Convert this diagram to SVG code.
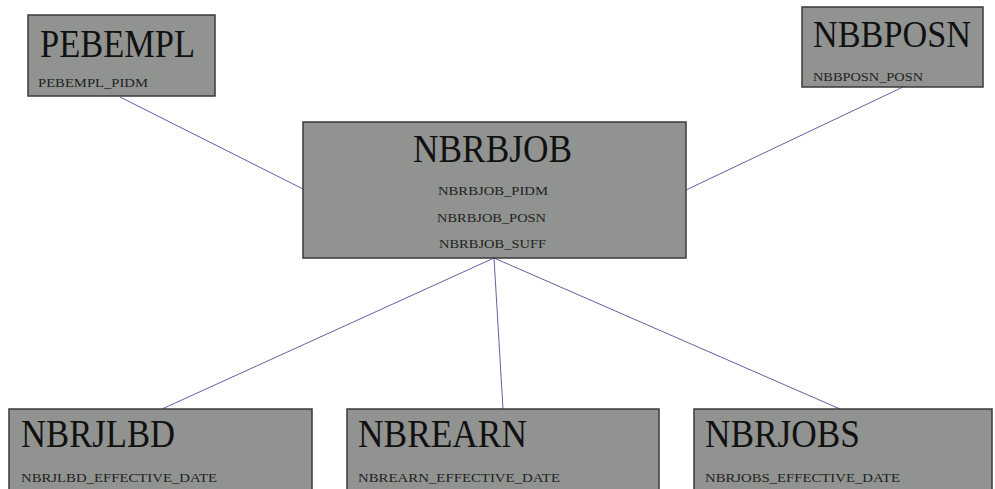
<svg xmlns="http://www.w3.org/2000/svg" width="995" height="489" viewBox="0 0 995 489">
<style>
.box{fill:#909390;stroke:#3a3a3a;stroke-width:1.5}
.t{font-family:"Liberation Serif","Times New Roman",serif;font-size:40px;fill:#111}
.s{font-family:"Liberation Serif","Times New Roman",serif;font-size:13px;fill:#222}
.c{stroke:#5f63a0;stroke-width:1;fill:none}
</style>
<rect width="995" height="489" fill="#fff"/>
<g id="connectors">
<line class="c" x1="120" y1="97" x2="303" y2="189"/>
<line class="c" x1="903" y1="87" x2="686" y2="190"/>
<line class="c" x1="494" y1="258" x2="162" y2="409"/>
<line class="c" x1="494" y1="258" x2="503" y2="409"/>
<line class="c" x1="494" y1="258" x2="840" y2="409"/>
</g>
<g id="PEBEMPL">
<rect class="box" x="28" y="15" width="187" height="81"/>
<text class="t" x="40" y="57" textLength="155" lengthAdjust="spacingAndGlyphs">PEBEMPL</text>
<text class="s" x="38" y="87" textLength="110" lengthAdjust="spacingAndGlyphs">PEBEMPL_PIDM</text>
</g>
<g id="NBBPOSN">
<rect class="box" x="802" y="7" width="181" height="80"/>
<text class="t" x="813" y="47" textLength="158" lengthAdjust="spacingAndGlyphs" style="font-size:38px">NBBPOSN</text>
<text class="s" x="813" y="81" textLength="110" lengthAdjust="spacingAndGlyphs">NBBPOSN_POSN</text>
</g>
<g id="NBRBJOB">
<rect class="box" x="303" y="122" width="383" height="136"/>
<text class="t" x="413" y="162" textLength="159" lengthAdjust="spacingAndGlyphs">NBRBJOB</text>
<text class="s" x="438" y="195" textLength="110" lengthAdjust="spacingAndGlyphs">NBRBJOB_PIDM</text>
<text class="s" x="437" y="222" textLength="109" lengthAdjust="spacingAndGlyphs">NBRBJOB_POSN</text>
<text class="s" x="439" y="248" textLength="107" lengthAdjust="spacingAndGlyphs">NBRBJOB_SUFF</text>
</g>
<g id="NBRJLBD">
<rect class="box" x="9" y="409" width="303" height="90"/>
<text class="t" x="21" y="447" textLength="154" lengthAdjust="spacingAndGlyphs">NBRJLBD</text>
<text class="s" x="21" y="482" textLength="196" lengthAdjust="spacingAndGlyphs">NBRJLBD_EFFECTIVE_DATE</text>
</g>
<g id="NBREARN">
<rect class="box" x="347" y="409" width="312" height="90"/>
<text class="t" x="358" y="447" textLength="169" lengthAdjust="spacingAndGlyphs">NBREARN</text>
<text class="s" x="358" y="482" textLength="202" lengthAdjust="spacingAndGlyphs">NBREARN_EFFECTIVE_DATE</text>
</g>
<g id="NBRJOBS">
<rect class="box" x="694" y="409" width="298" height="90"/>
<text class="t" x="705" y="447" textLength="155" lengthAdjust="spacingAndGlyphs">NBRJOBS</text>
<text class="s" x="705" y="482" textLength="195" lengthAdjust="spacingAndGlyphs">NBRJOBS_EFFECTIVE_DATE</text>
</g>
</svg>
